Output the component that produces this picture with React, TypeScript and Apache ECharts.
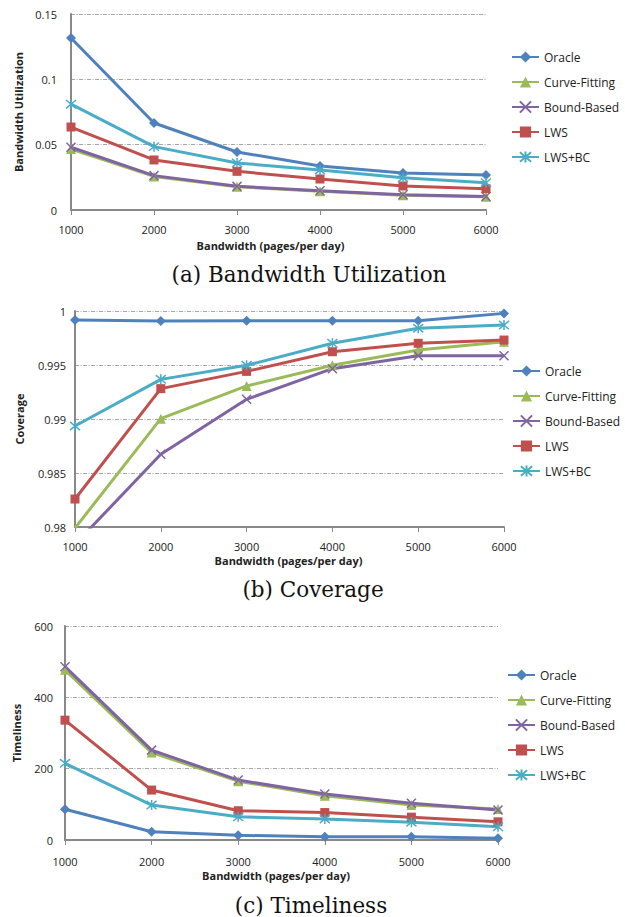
import React, { useEffect, useRef } from 'react';
import * as echarts from 'echarts';

const xCategories = ['1000', '2000', '3000', '4000', '5000', '6000'];
const seriesNames = ['Oracle', 'Curve-Fitting', 'Bound-Based', 'LWS', 'LWS+BC'];

// (a) Bandwidth Utilization
const utilOracle = [0.1316, 0.0666, 0.0444, 0.0337, 0.0283, 0.0268];
const utilCurve = [0.0466, 0.0257, 0.0178, 0.0143, 0.0113, 0.0101];
const utilBound = [0.048, 0.0263, 0.0181, 0.0147, 0.0117, 0.0104];
const utilLWS = [0.0635, 0.0383, 0.0296, 0.0237, 0.0184, 0.0163];
const utilLWSBC = [0.081, 0.0485, 0.036, 0.0306, 0.0247, 0.0209];

// (b) Coverage
const covOracle = [0.99917, 0.99907, 0.9991, 0.9991, 0.9991, 0.99978];
const covCurve = [0.9799, 0.99003, 0.99306, 0.99497, 0.99639, 0.99716];
const covBound = [0.9784, 0.98673, 0.99182, 0.99466, 0.99586, 0.99586];
const covLWS = [0.98259, 0.99281, 0.99441, 0.99623, 0.99701, 0.99731];
const covLWSBC = [0.98935, 0.99367, 0.99497, 0.99701, 0.9984, 0.9987];

// (c) Timeliness
const timeOracle = [86, 23, 13, 9, 9, 5];
const timeCurve = [477, 245, 165, 124, 98, 87];
const timeBound = [486, 252, 168, 129, 103, 84];
const timeLWS = [336, 140, 82, 77, 64, 51];
const timeLWSBC = [215, 98, 65, 59, 50, 37];

const yNames = ['Bandwidth Utilization', 'Coverage', 'Timeliness'];
const xName = 'Bandwidth (pages/per day)';
const captions = ['(a) Bandwidth Utilization', '(b) Coverage', '(c) Timeliness'];

const colors = ['#4F81BD', '#9BBB59', '#8064A2', '#C0504D', '#4BACC6'];
const FONT = 'Open Sans';

const X_PATH = 'path://M0,0L10,10M10,0L0,10';
const STAR_PATH = 'path://M0,0L10,10M10,0L0,10M5,-1L5,11';
const symbols = ['diamond', 'triangle', X_PATH, 'rect', STAR_PATH];
const symbolSizes = [10, 10, 9, 9, 10];

export default function App() {
  const ref = useRef<HTMLDivElement>(null);
  useEffect(() => {
    if (!ref.current) return;
    const chart = echarts.init(ref.current, undefined, { renderer: 'svg' });
    const datasets = [
      [utilOracle, utilCurve, utilBound, utilLWS, utilLWSBC],
      [covOracle, covCurve, covBound, covLWS, covLWSBC],
      [timeOracle, timeCurve, timeBound, timeLWS, timeLWSBC],
    ];
    const grids = [
      { left: 71, top: 14, width: 415, height: 196 },
      { left: 75, top: 311, width: 429, height: 216 },
      { left: 65, top: 626, width: 433, height: 214 },
    ];
    const yRanges = [
      { min: 0, max: 0.15, interval: 0.05 },
      { min: 0.98, max: 1, interval: 0.005 },
      { min: 0, max: 600, interval: 200 },
    ];
    const yLabelMargin = [14, 9, 12];
    const yNameGap = [45, 50, 43];
    const xNameGap = [30, 28, 30];
    const xNamePad = [[0, 16, 0, 0], [0, 2, 0, 0], [0, 11, 0, 0]];
    const xLabelMargin = [14, 14, 16];
    const legendPos = [
      { left: 511, top: 50 },
      { left: 512, top: 364 },
      { left: 507, top: 668 },
    ];
    const captionPos = [
      { x: 309, y: 274 },
      { x: 313, y: 589 },
      { x: 311, y: 905 },
    ];

    const series: any[] = [];
    datasets.forEach((group, gi) => {
      group.forEach((vals, si) => {
        const isPath = si === 2 || si === 4;
        series.push({
          type: 'line',
          name: seriesNames[si],
          xAxisIndex: gi,
          yAxisIndex: gi,
          data: vals,
          symbol: symbols[si],
          symbolSize: symbolSizes[si],
          showSymbol: true,
          clip: true,
          lineStyle: { color: colors[si], width: 3 },
          itemStyle: isPath
            ? { color: colors[si], borderColor: colors[si], borderWidth: 1.5 }
            : { color: colors[si] },
          emphasis: { disabled: true },
        });
      });
    });

    const option: any = {
      animation: false,
      backgroundColor: '#ffffff',
      grid: grids,
      xAxis: grids.map((_, i) => ({
        type: 'category',
        gridIndex: i,
        data: xCategories,
        boundaryGap: false,
        axisLine: { lineStyle: { color: '#888888', width: 2 } },
        axisTick: { show: true, length: 5, lineStyle: { color: '#888888', width: 1 } },
        axisLabel: { margin: xLabelMargin[i], fontFamily: FONT, fontSize: 11, color: '#222' },
        splitLine: { show: false },
        name: xName,
        nameLocation: 'middle',
        nameGap: xNameGap[i],
        nameTextStyle: {
          fontFamily: FONT,
          fontWeight: 'bold',
          fontSize: 11,
          color: '#222',
          padding: xNamePad[i],
        },
      })),
      yAxis: grids.map((_, i) => ({
        type: 'value',
        gridIndex: i,
        min: yRanges[i].min,
        max: yRanges[i].max,
        interval: yRanges[i].interval,
        axisLine: { show: true, lineStyle: { color: '#888888', width: 2 } },
        axisTick: { show: false },
        axisLabel: {
          margin: yLabelMargin[i],
          fontFamily: FONT,
          fontSize: 11,
          color: '#222',
          formatter: (v: number) => String(parseFloat(v.toFixed(4))),
        },
        splitLine: {
          show: true,
          lineStyle: { color: '#a6a6a6', width: 1, type: [4, 1.5, 1, 1.5] },
        },
        name: yNames[i],
        nameLocation: 'middle',
        nameRotate: 90,
        nameGap: yNameGap[i],
        nameTextStyle: { fontFamily: FONT, fontWeight: 'bold', fontSize: 11, color: '#222' },
      })),
      legend: legendPos.map((p) => ({
        orient: 'vertical',
        left: p.left,
        top: p.top,
        padding: 0,
        itemWidth: 27,
        itemHeight: 14,
        itemGap: 11,
        selectedMode: false,
        textStyle: { fontFamily: FONT, fontSize: 12, color: '#222', lineHeight: 14 },
        data: seriesNames,
      })),
      graphic: captions.map((c, i) => ({
        type: 'text',
        x: captionPos[i].x,
        y: captionPos[i].y,
        style: {
          text: c,
          font: '21.5px "DejaVu Serif"',
          fill: '#111',
          textAlign: 'center',
          textVerticalAlign: 'middle',
        },
      })),
      series,
    };
    chart.setOption(option);
    return () => chart.dispose();
  }, []);
  return (
    <div
      ref={ref}
      style={{ position: 'absolute', left: 0, top: 0, width: 625, height: 917, background: '#fff' }}
    />
  );
}
